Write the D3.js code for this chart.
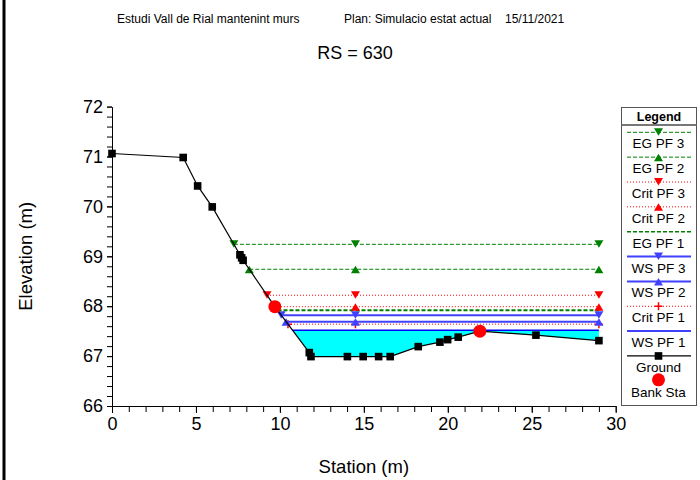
<!DOCTYPE html>
<html>
<head>
<meta charset="utf-8">
<script src="https://cdn.jsdelivr.net/npm/d3@7"></script>
<style>
  body { margin: 0; background: #fff; }
  svg { display: block; }
  text { font-family: Arial, "Liberation Sans", sans-serif; fill: #000; }
</style>
</head>
<body>
<svg id="chart" width="700" height="480"></svg>
<script>
// Cross-section ground profile (station, elevation)
const groundStation = [0.0, 4.24, 5.10, 5.97, 7.62, 7.72, 7.81, 9.70, 11.75, 11.85, 14.02, 14.96, 15.88, 16.57, 18.24, 19.53, 19.99, 20.62, 21.91, 25.25, 29.0];
const groundElev    = [71.06, 70.98, 70.41, 69.99, 69.03, 68.97, 68.92, 67.99, 67.07, 66.99, 66.99, 66.99, 66.99, 66.99, 67.19, 67.28, 67.33, 67.38, 67.50, 67.42, 67.31];

// Bank stations
const bankStation = [9.70, 21.91];
const bankElev    = [67.99, 67.50];

// Profile elevations (energy grade, critical depth, water surface)
const profileNames = ["EG PF 3", "EG PF 2", "Crit PF 3", "Crit PF 2", "EG PF 1", "WS PF 3", "WS PF 2", "Crit PF 1", "WS PF 1"];
const profileElev  = [69.24, 68.74, 68.22, 67.99, 67.92, 67.82, 67.69, 67.64, 67.52];

// Stations where profile symbols are repeated (besides the left edge of each line)
const symbolStations = [14.5, 29.0];

const xTicks = [0, 5, 10, 15, 20, 25, 30];
const yTicks = [66, 67, 68, 69, 70, 71, 72];

// Drawing styles per profile
const profileStyle = {
  "EG PF 3":   { color: "#008000", dash: "4,2", width: 1, symbol: "down" },
  "EG PF 2":   { color: "#008000", dash: "4,2", width: 1, symbol: "up" },
  "Crit PF 3": { color: "#ff0000", dash: "1,2", width: 1, symbol: "down" },
  "Crit PF 2": { color: "#ff0000", dash: "1,2", width: 1, symbol: "up" },
  "EG PF 1":   { color: "#008000", dash: "4,2", width: 2, symbol: null },
  "WS PF 3":   { color: "#4040ff", dash: null,  width: 2, symbol: "down" },
  "WS PF 2":   { color: "#4040ff", dash: null,  width: 2, symbol: "up" },
  "Crit PF 1": { color: "#ff0000", dash: "1,2", width: 1, symbol: "plus" },
  "WS PF 1":   { color: "#0000ff", dash: null,  width: 1.5, symbol: null }
};

const svg = d3.select("#chart");

const x = d3.scaleLinear().domain([0, 30]).range([112, 615.7]);
const y = d3.scaleLinear().domain([66, 72]).range([406, 106.6]);

// Page frame on the left edge
svg.append("rect").attr("x", 2.5).attr("y", 0).attr("width", 3).attr("height", 480).attr("fill", "#000");

// Titles
svg.append("text").attr("x", 117).attr("y", 23).attr("font-size", 12).text("Estudi Vall de Rial mantenint murs");
svg.append("text").attr("x", 344).attr("y", 23).attr("font-size", 12).text("Plan: Simulacio estat actual");
svg.append("text").attr("x", 505).attr("y", 23).attr("font-size", 12).text("15/11/2021");
svg.append("text").attr("x", 355).attr("y", 58.5).attr("font-size", 18).attr("text-anchor", "middle").text("RS = 630");

// Axes
const yMinor = d3.range(66, 72.0001, 0.2);
const xMinor = d3.range(0, 30.0001, 1);

const yAxisG = svg.append("g").attr("transform", "translate(112,0)");
yAxisG.call(d3.axisLeft(y).tickValues(yMinor).tickSize(5).tickFormat("").tickSizeOuter(0));
const yLab = svg.append("g").attr("transform", "translate(112,0)")
  .call(d3.axisLeft(y).tickValues(yTicks).tickSize(5).tickPadding(4).tickFormat(d3.format("d")).tickSizeOuter(0));
yLab.select(".domain").remove();
yLab.selectAll("text").attr("font-size", 18).attr("font-family", "Arial, 'Liberation Sans', sans-serif").attr("fill", "#000");

const xAxisG = svg.append("g").attr("transform", "translate(0,406)");
xAxisG.call(d3.axisBottom(x).tickValues(xMinor).tickSize(6).tickFormat("").tickSizeOuter(0));
const xLab = svg.append("g").attr("transform", "translate(0,406)")
  .call(d3.axisBottom(x).tickValues(xTicks).tickSize(7).tickPadding(4).tickFormat(d3.format("d")).tickSizeOuter(0));
xLab.select(".domain").remove();
xLab.selectAll("text").attr("font-size", 18).attr("font-family", "Arial, 'Liberation Sans', sans-serif").attr("fill", "#000");
svg.selectAll(".domain, .tick line").attr("stroke", "#000").attr("stroke-width", 1);

svg.append("text").attr("transform", `translate(32,${(y(66) + y(72)) / 2}) rotate(-90)`)
  .attr("text-anchor", "middle").attr("font-size", 18.5).text("Elevation (m)");
svg.append("text").attr("x", (x(0) + x(30)) / 2).attr("y", 473)
  .attr("text-anchor", "middle").attr("font-size", 18.5).text("Station (m)");

const ground = groundStation.map((s, i) => ({ s, z: groundElev[i] }));

// Left edge of a level: first crossing of the ground going from left to right
function leftEdge(level) {
  for (let i = 0; i < ground.length - 1; i++) {
    const a = ground[i], b = ground[i + 1];
    if (a.z >= level && b.z < level) {
      return a.s + (a.z - level) / (a.z - b.z) * (b.s - a.s);
    }
  }
  return ground[0].s;
}
const rightEnd = groundStation[groundStation.length - 1];

// Water fill below WS PF 1
const wsLevel = profileElev[profileNames.indexOf("WS PF 1")];
const wsStart = leftEdge(wsLevel);
const fillPts = [{ s: wsStart, z: wsLevel }];
ground.forEach(p => { if (p.s > wsStart) fillPts.push(p); });
fillPts.push({ s: rightEnd, z: wsLevel });
svg.append("path")
  .attr("d", d3.line().x(p => x(p.s)).y(p => y(Math.min(p.z, wsLevel)))(fillPts) + "Z")
  .attr("fill", "#00ffff").attr("stroke", "none");

// Symbol shapes
function drawSymbol(g, kind, cx, cy, color) {
  if (kind === "down") {
    g.append("path").attr("d", `M${cx - 4.5},${cy - 4}L${cx + 4.5},${cy - 4}L${cx},${cy + 3.5}Z`).attr("fill", color);
  } else if (kind === "up") {
    g.append("path").attr("d", `M${cx - 4.5},${cy + 4}L${cx + 4.5},${cy + 4}L${cx},${cy - 3.5}Z`).attr("fill", color);
  } else if (kind === "plus") {
    g.append("path").attr("d", `M${cx - 4},${cy}L${cx + 4},${cy}M${cx},${cy - 4}L${cx},${cy + 4}`)
      .attr("stroke", color).attr("stroke-width", 1.5);
  } else if (kind === "square") {
    g.append("rect").attr("x", cx - 3.8).attr("y", cy - 3.8).attr("width", 7.6).attr("height", 7.6).attr("fill", color);
  } else if (kind === "circle") {
    g.append("circle").attr("cx", cx).attr("cy", cy).attr("r", 6.5).attr("fill", color);
  }
}

// Profile lines, drawn from the lowest legend entry upwards
const linesG = svg.append("g");
profileNames.slice().reverse().forEach(name => {
  const i = profileNames.indexOf(name);
  const lvl = profileElev[i];
  const st = profileStyle[name];
  const s0 = leftEdge(lvl);
  const line = linesG.append("line")
    .attr("x1", x(s0)).attr("x2", x(rightEnd))
    .attr("y1", y(lvl)).attr("y2", y(lvl))
    .attr("stroke", st.color).attr("stroke-width", st.width);
  if (st.dash) line.attr("stroke-dasharray", st.dash);
  if (st.symbol) {
    [s0].concat(symbolStations).forEach(s => drawSymbol(linesG, st.symbol, x(s), y(lvl), st.color));
  }
});

// Ground line and points
const groundG = svg.append("g");
groundG.append("path")
  .attr("d", d3.line().x(p => x(p.s)).y(p => y(p.z))(ground))
  .attr("fill", "none").attr("stroke", "#000").attr("stroke-width", 1.2);
ground.forEach(p => drawSymbol(groundG, "square", x(p.s), y(p.z), "#000"));

// Bank stations
bankStation.forEach((s, i) => drawSymbol(groundG, "circle", x(s), y(bankElev[i]), "#ff0000"));

// Legend
const lg = svg.append("g");
const lx0 = 621.5, lx1 = 696.5, ly0 = 107.5, ly1 = 405.5;
lg.append("rect").attr("x", lx0).attr("y", ly0).attr("width", lx1 - lx0).attr("height", ly1 - ly0)
  .attr("fill", "#fff").attr("stroke", "#555").attr("stroke-width", 1);
lg.append("text").attr("x", (lx0 + lx1) / 2).attr("y", 120.5).attr("text-anchor", "middle")
  .attr("font-size", 12.5).attr("font-weight", "bold").text("Legend");
lg.append("line").attr("x1", lx0).attr("x2", lx1).attr("y1", 125).attr("y2", 125)
  .attr("stroke", "#777").attr("stroke-width", 2);

const legendEntries = profileNames.concat(["Ground", "Bank Sta"]);
const cxL = 658.5;
legendEntries.forEach((name, i) => {
  const yy = 132.3 + i * 24.85;
  if (profileStyle[name]) {
    const st = profileStyle[name];
    const l = lg.append("line").attr("x1", 627).attr("x2", 691).attr("y1", yy).attr("y2", yy)
      .attr("stroke", st.color).attr("stroke-width", st.width === 2 && st.dash ? 1.5 : st.width);
    if (st.dash) l.attr("stroke-dasharray", st.dash);
    if (st.symbol) drawSymbol(lg, st.symbol, cxL, yy, st.color);
  } else if (name === "Ground") {
    lg.append("line").attr("x1", 627).attr("x2", 691).attr("y1", yy).attr("y2", yy)
      .attr("stroke", "#000").attr("stroke-width", 1.2);
    drawSymbol(lg, "square", cxL, yy, "#000");
  } else {
    drawSymbol(lg, "circle", cxL, yy - 1, "#ff0000");
  }
  lg.append("text").attr("x", cxL).attr("y", yy + 16).attr("text-anchor", "middle")
    .attr("font-size", 13.5).text(name);
});
</script>
</body>
</html>
